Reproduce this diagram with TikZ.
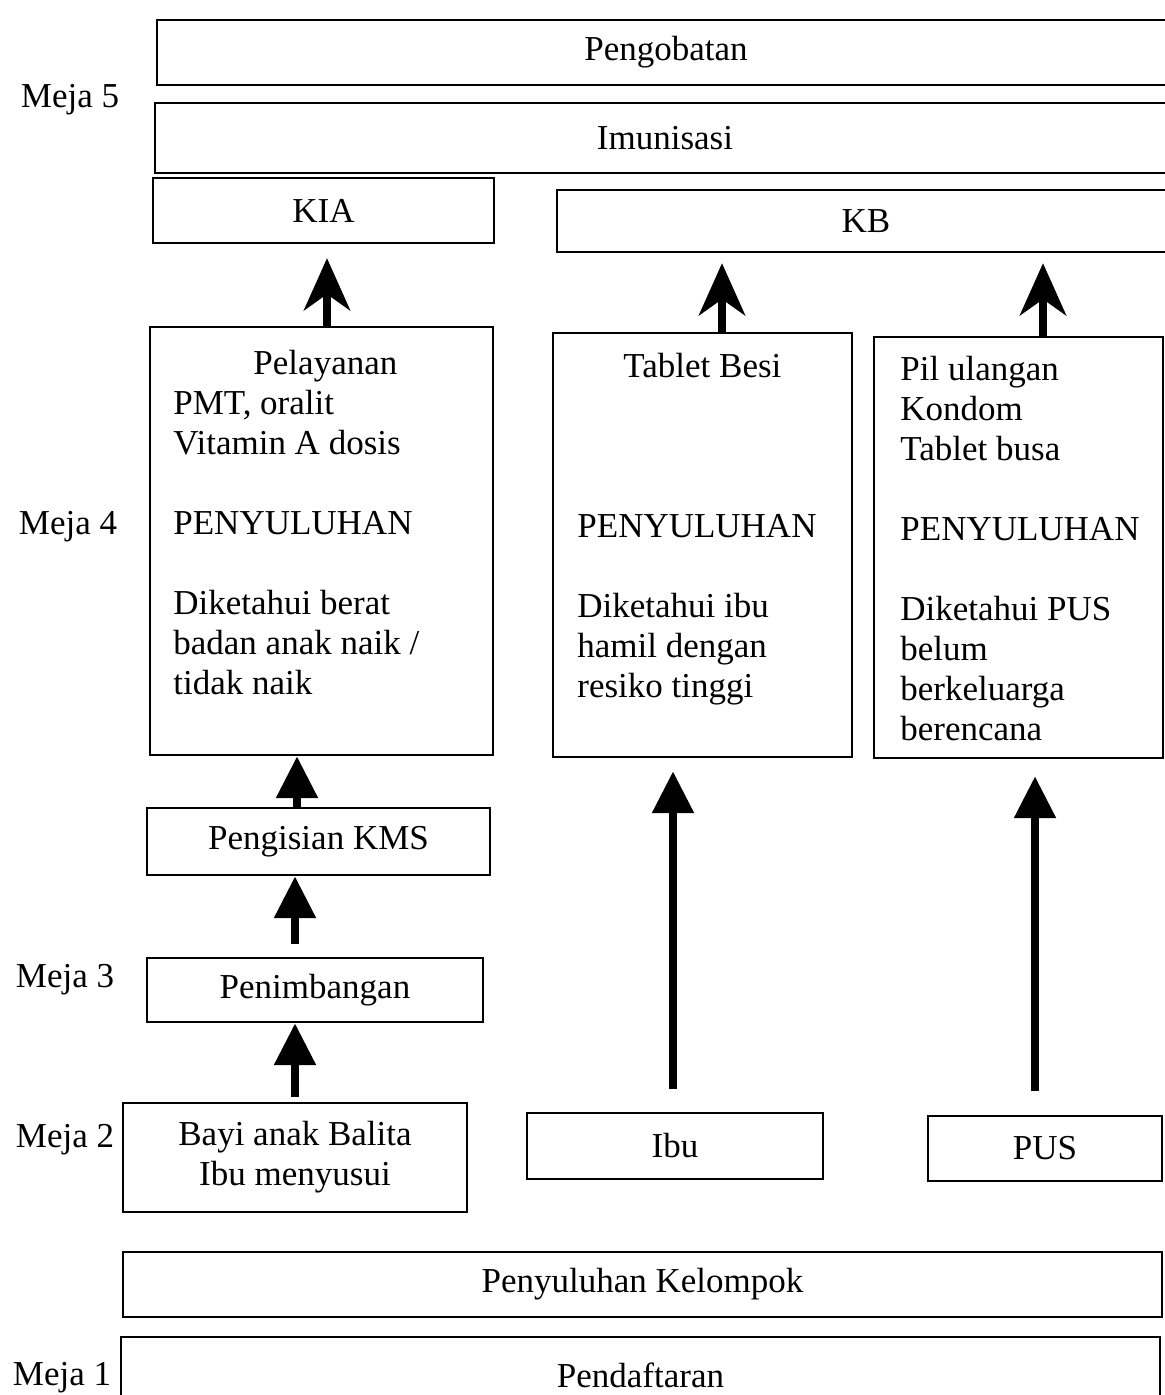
\documentclass[tikz,border=0pt]{standalone}
\usepackage{fontspec}
\setmainfont{Liberation Serif}
\usetikzlibrary{arrows.meta,calc}
\begin{document}
\begin{tikzpicture}[x=0.5pt,y=-0.5pt,
  box/.style={draw, line width=1.2pt, inner sep=0pt, font=\fontsize{17.5}{20}\selectfont, align=center},
  txt/.style={inner sep=0pt, align=left, font=\fontsize{17.5}{20}\selectfont},
  lbl/.style={inner sep=0pt, font=\fontsize{17.5}{20}\selectfont},
  uparr/.style={line width=4.3pt, -{Stealth[width=23pt,length=26pt,inset=8pt]}},
  arr/.style={line width=4.3pt, -{Triangle[width=20pt,length=21pt]}}]
\useasboundingbox (0,0) rectangle (1165,1395);
\clip (0,0) rectangle (1165,1395);
\fill[white] (0,0) rectangle (1165,1395);

% Meja labels
\node[lbl] (m5) at (70,100) {Meja 5};
\node[lbl] (m4) at (68,527) {Meja 4};
\node[lbl] (m3) at (65,980) {Meja 3};
\node[lbl] (m2) at (65,1140) {Meja 2};
\node[lbl] (m1) at (62,1378) {Meja 1};

% top bars
\node[box, minimum width=509pt, minimum height=32.5pt] (peng) at (666,52.5) {Pengobatan};
\node[box, minimum width=510pt, minimum height=35pt] (imun) at (665,138) {Imunisasi};
\node[box, minimum width=170.5pt, minimum height=32.5pt] (kia) at (323.5,210.5) {KIA};
\node[box, minimum width=309pt, minimum height=31pt] (kb) at (866,221) {KB};

% Meja 4 boxes
\node[box, minimum width=171.5pt, minimum height=214pt] (b4a) at (321.5,541) {};
\node[box, minimum width=149.5pt, minimum height=212pt] (b4b) at (702.5,545) {};
\node[box, minimum width=144.5pt, minimum height=210.5pt] (b4c) at (1018.5,547.5) {};

\node[txt, anchor=north west] (t4a) at (173,346) {\makebox[152pt][c]{\strut Pelayanan}\\ PMT, oralit\\ Vitamin A dosis\\[20pt] PENYULUHAN\\[20pt] Diketahui berat\\ badan anak naik /\\ tidak naik};
\node[txt, anchor=north west] (t4b) at (577,349) {\makebox[125pt][c]{\strut Tablet Besi}\\[60pt] PENYULUHAN\\[20pt] Diketahui ibu\\ hamil dengan\\ resiko tinggi};
\node[txt, anchor=north west] (t4c) at (900,352) {\strut Pil ulangan\\ Kondom\\ Tablet busa\\[20pt] PENYULUHAN\\[20pt] Diketahui PUS\\ belum\\ berkeluarga\\ berencana};

% lower boxes
\node[box, minimum width=171.5pt, minimum height=33.5pt] (kms) at (318.5,841.5) {Pengisian KMS};
\node[box, minimum width=168pt, minimum height=32pt] (pen) at (315,990) {Penimbangan};
\node[box, minimum width=172pt, minimum height=54.5pt] (bayi) at (295,1157.5) {Bayi anak Balita\\ Ibu menyusui};
\node[box, minimum width=148pt, minimum height=33pt] (ibu) at (675,1146) {Ibu};
\node[box, minimum width=117pt, minimum height=32.5pt] (pus) at (1045,1148.5) {PUS};
\node[box, minimum width=519.5pt, minimum height=32.5pt] (pk) at (642.5,1284.5) {Penyuluhan Kelompok};
\node[box, minimum width=519.5pt, minimum height=38pt] (pend) at (640.5,1375) {Pendaftaran};

% arrows to top
\draw[uparr, shorten >=7pt] ([xshift=2.75pt]b4a.north) -- ([xshift=2.75pt]b4a.north |- kia.south);
\draw[uparr, shorten >=5pt] ([xshift=9.75pt]b4b.north) -- ([xshift=9.75pt]b4b.north |- kb.south);
\draw[uparr, shorten >=5pt] ([xshift=12.25pt]b4c.north) -- ([xshift=12.25pt]b4c.north |- kb.south);

% lower arrows
\draw[arr] ([xshift=-10.75pt]kms.north) -- ([xshift=-10.75pt]kms.north |- b4a.south);
\draw[arr, shorten <=6.5pt] ([xshift=-10pt]pen.north) -- ([xshift=-10pt]pen.north |- kms.south);
\draw[arr, shorten <=2.5pt] (bayi.north) -- (bayi.north |- pen.south);
\draw[arr, shorten <=11.5pt, shorten >=6.5pt] ([xshift=-1pt]ibu.north) -- ([xshift=-1pt]ibu.north |- b4b.south);
\draw[arr, shorten <=12pt, shorten >=8.5pt] ([xshift=-5pt]pus.north) -- ([xshift=-5pt]pus.north |- b4c.south);
\end{tikzpicture}
\end{document}
